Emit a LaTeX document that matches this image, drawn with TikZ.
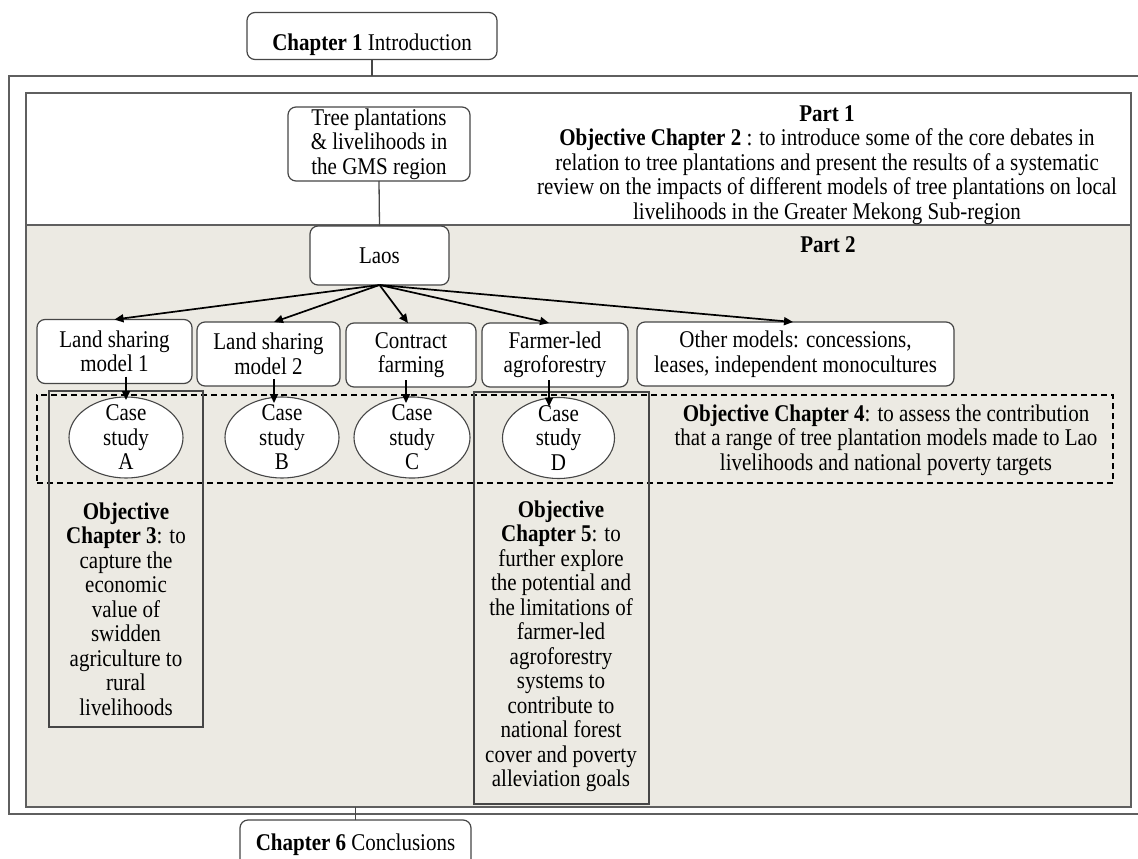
\documentclass[tikz,border=0pt]{standalone}
\usepackage{fontspec}
\setmainfont{Liberation Serif}[FakeStretch=0.875]
\usetikzlibrary{arrows.meta,calc,shapes.geometric}
\definecolor{parttwo}{RGB}{236,234,227}
\definecolor{boxline}{RGB}{70,70,70}
\definecolor{frameline}{RGB}{95,95,95}
\begin{document}
\begin{tikzpicture}[x=1pt,y=-1pt,
  every node/.style={font=\fontsize{24}{24.5}\selectfont, inner sep=0pt, outer sep=0pt},
  rbox/.style={draw=boxline, line width=1.2pt, rounded corners=8pt, fill=white, align=center},
  frame/.style={draw=frameline, line width=1.4pt},
  oval/.style={ellipse, draw=boxline, line width=1.1pt, fill=white},
  objbox/.style={draw=boxline, line width=1.2pt},
  conn/.style={line width=1.3pt, draw=boxline},
  arr/.style={line width=1.7pt, -{Triangle[length=9pt,width=8pt]}},
  txt/.style={align=center},
  dashbox/.style={draw=black, line width=1.4pt, dash pattern=on 6pt off 4pt}
]
\useasboundingbox (0,0) rectangle (1138,859);
\clip (0,0) rectangle (1138,859);

% frames
\node[frame, anchor=north west, minimum width=1141pt, minimum height=738pt] (outer) at (9,76) {};
\fill[parttwo] (26,225) rectangle (1131,807);
\node[frame, anchor=north west, minimum width=1105pt, minimum height=714pt] (inner) at (26,93) {};
\draw[frame] (inner.west |- 0,225) -- (inner.east |- 0,225);

% chapter boxes
\node[rbox, minimum width=250pt, minimum height=47pt, text height=30pt, text depth=0pt] (ch1) at (372,36) {\textbf{Chapter 1} Introduction};
\node[rbox, minimum width=231pt, minimum height=50pt] (ch6) at (355.5,845) {\textbf{Chapter 6} Conclusions};

% part 1
\node[rbox, minimum width=182pt, minimum height=74pt] (tree) at (379,144) {Tree plantations\\ \& livelihoods in\\ the GMS region};
\node[txt] (p1) at (827,165) {\textbf{Part 1}\\ \textbf{Objective Chapter 2} : to introduce some of the core debates in\\ relation to tree plantations and present the results of a systematic\\ review on the impacts of different models of tree plantations on local\\ livelihoods in the Greater Mekong Sub-region};

% part 2
\node (p2) at (828,245) {\textbf{Part 2}};
\node[rbox, minimum width=139pt, minimum height=59pt] (laos) at (379.5,255.5) {Laos};

\node[rbox, minimum width=155pt, minimum height=64pt] (m1) at (114.5,351.5) {Land sharing\\ model 1};
\node[rbox, minimum width=143pt, minimum height=64pt] (m2) at (268.5,354) {Land sharing\\ model 2};
\node[rbox, minimum width=130pt, minimum height=64pt] (cf) at (411,355) {Contract\\ farming};
\node[rbox, minimum width=146pt, minimum height=64pt] (fl) at (555,355) {Farmer-led\\ agroforestry};
\node[rbox, minimum width=317pt, minimum height=64pt] (om) at (795.5,354) {Other models: concessions,\\ leases, independent monocultures};

% objective boxes
\node[dashbox, anchor=north west, minimum width=1076pt, minimum height=88pt] (ch4box) at (37,395) {};
\node[objbox, anchor=north west, minimum width=154pt, minimum height=336pt] (ch3box) at (49,391) {};
\node[objbox, anchor=north west, minimum width=175pt, minimum height=412pt] (ch5box) at (474,392) {};

% case studies
\node[oval, minimum width=114pt, minimum height=81pt] (eA) at (126,437.5) {};
\node[oval, minimum width=114pt, minimum height=81pt] (eB) at (282,437.5) {};
\node[oval, minimum width=116pt, minimum height=81pt] (eC) at (412,437.5) {};
\node[oval, minimum width=112pt, minimum height=81pt] (eD) at (558.5,438) {};
\node[txt] (tA) at (eA) {Case\\ study\\ A};
\node[txt] (tB) at (eB) {Case\\ study\\ B};
\node[txt] (tC) at (eC) {Case\\ study\\ C};
\node[txt] (tD) at (eD) {Case\\ study\\ D};

% objective texts
\node[txt] (ob4) at (886,440) {\textbf{Objective Chapter 4}: to assess the contribution\\ that a range of tree plantation models made to Lao\\ livelihoods and national poverty targets};
\node[txt] (ob3) at (126,609) {\textbf{Objective}\\ \textbf{Chapter 3}: to\\ capture the\\ economic\\ value of\\ swidden\\ agriculture to\\ rural\\ livelihoods};
\node[txt] (ob5) at (561,646.5) {\textbf{Objective}\\ \textbf{Chapter 5}: to\\ further explore\\ the potential and\\ the limitations of\\ farmer-led\\ agroforestry\\ systems to\\ contribute to\\ national forest\\ cover and poverty\\ alleviation goals};

% connectors
\draw[conn] (ch1.south) -- (ch1.south |- outer.north);
\draw[conn] (tree.south) -- (laos.north);
\draw[conn] (ch6.north) -- (ch6.north |- inner.south);

\draw[arr] (laos.south) -- (m1.north);
\draw[arr] (laos.south) -- ($(m2.north)+(5.5,0)$);
\draw[arr] (laos.south) -- ($(cf.north)+(-3,0)$);
\draw[arr] (laos.south) -- ($(fl.north)+(-6,0)$);
\draw[arr] (laos.south) -- ($(om.north)+(-2.5,0)$);

\coordinate (ax) at (eA.north |- m1.south);
\coordinate (bx) at ($(m2.south)+(5.5,0)$);
\coordinate (cx) at ($(cf.south)+(-5,0)$);
\coordinate (dx) at ($(fl.south)+(-6,0)$);
\draw[arr] ($(ax)+(0,-7)$) -- ($(eA.north)+(0,3)$);
\draw[arr] ($(bx)+(0,-7)$) -- ($(bx |- eB.north)+(0,6)$);
\draw[arr] ($(cx)+(0,-7)$) -- ($(cx |- eC.north)+(0,6)$);
\draw[arr] ($(dx)+(0,-7)$) -- ($(dx |- eD.north)+(0,9)$);
\end{tikzpicture}
\end{document}
